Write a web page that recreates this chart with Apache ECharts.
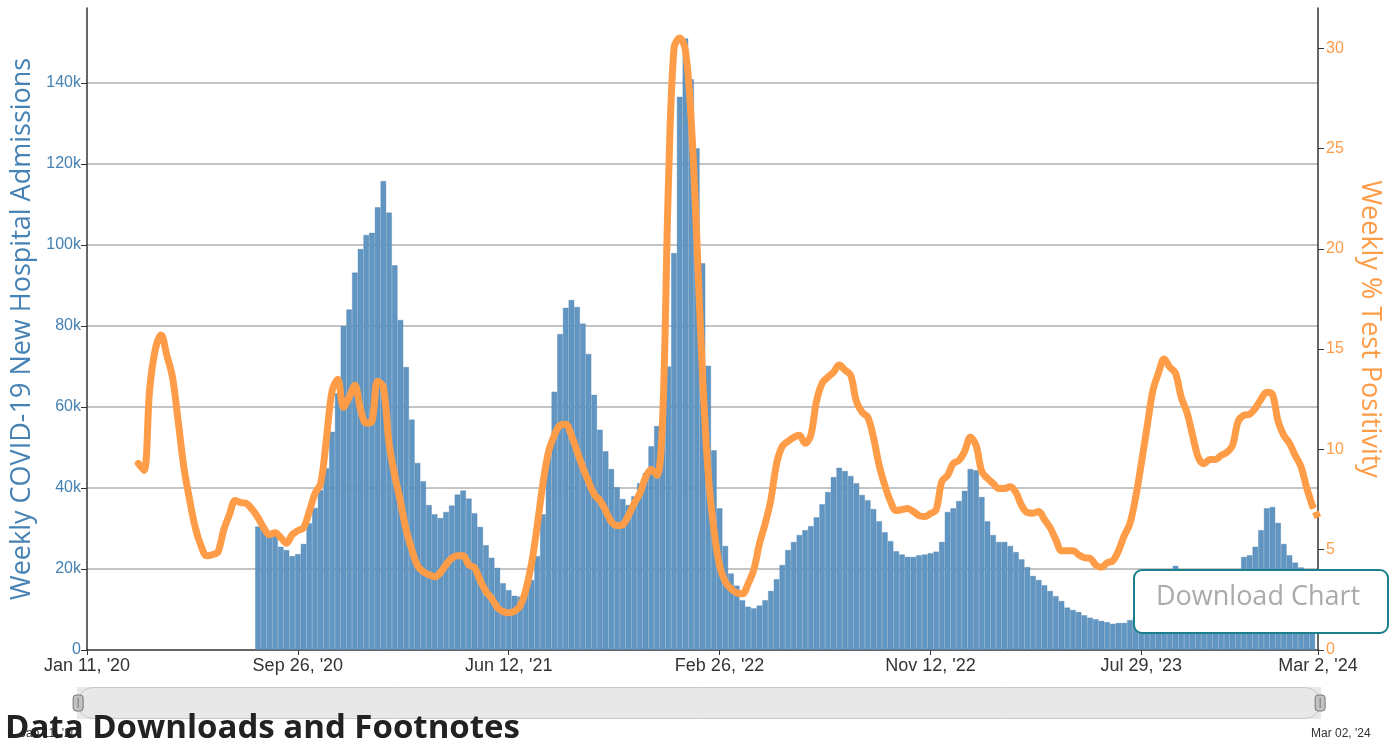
<!DOCTYPE html>
<html>
<head>
<meta charset="utf-8">
<title>Weekly COVID-19 Hospital Admissions and Test Positivity</title>
<script src="https://cdn.jsdelivr.net/npm/echarts@6/dist/echarts.min.js"></script>
<style>
  html, body { margin: 0; padding: 0; background: #ffffff; }
  #chart { width: 1400px; height: 746px; }
</style>
</head>
<body>
<div id="chart"></div>
<script>
// weekly new hospital admissions, first bar = week ending Aug 8, '20
const admissionsStart = "Aug 8, '20";
const admissions = [
  30500, 30000, 29200, 28400, 25500, 24700, 23200, 23700, 26200, 31300,
  35100, 39500, 44900, 53900, 63400, 80000, 84100, 93200, 99000, 102500,
  103000, 109300, 115800, 108000, 95000, 81500, 69900, 56900, 46200, 41700,
  35800, 33500, 32600, 34100, 35700, 38400, 39400, 37400, 33800, 30400,
  25900, 22800, 20300, 16500, 14800, 13400, 13200, 14400, 17300, 23200,
  33500, 48100, 63800, 78000, 84500, 86400, 84700, 80600, 73100, 63000,
  54400, 49100, 44700, 40200, 37300, 35800, 38000, 41200, 43700, 50300,
  55300, 55100, 70000, 98000, 136600, 151000, 140900, 123900, 95500, 70200,
  49300, 35000, 25700, 18900, 15900, 12300, 10700, 10300, 11000, 12300,
  14600, 17500, 21000, 24700, 26700, 28400, 29600, 30600, 32800, 36000,
  39000, 42700, 45000, 44200, 43000, 41200, 38300, 37000, 34800, 31800,
  29100, 26900, 24400, 23600, 23000, 23000, 23400, 23600, 23900, 24300,
  26700, 34100, 35000, 36800, 39300, 44700, 44400, 37800, 31800, 28400,
  26700, 26700, 25700, 24200, 22400, 20500, 18300, 17300, 16000, 14600,
  13300, 12100, 10500, 9900, 9400, 8600, 8000, 7600, 7200, 6900,
  6500, 6700, 6700, 7400, 8200, 9200, 10500, 12500, 15000, 17500,
  19300, 20800, 19900, 19500, 19000, 18600, 18200, 17900, 17900, 18300,
  18900, 19500, 19900, 23000, 23400, 25500, 29600, 35000, 35300, 31400,
  26200, 23400, 21600, 20400, 19500, 18500
];

// weekly % test positivity, first point = week ending Mar 14, '20
const positivityStart = "Mar 14, '20";
const positivity = [
  9.3, 8.95, 13.0, 15.0, 15.7, 14.7, 13.6, 11.4, 9.1, 7.5,
  6.1, 5.2, 4.7, 4.75, 4.9, 6.0, 6.75, 7.45, 7.35, 7.3,
  7.0, 6.6, 6.1, 5.75, 5.85, 5.6, 5.32, 5.75, 5.95, 6.1,
  6.9, 7.8, 8.3, 10.5, 12.9, 13.5, 12.1, 12.6, 13.2, 12.0,
  11.3, 11.4, 13.4, 13.1, 10.3, 8.7, 7.4, 6.0, 5.0, 4.2,
  3.9, 3.75, 3.65, 3.85, 4.25, 4.57, 4.7, 4.7, 4.25, 4.1,
  3.47, 2.91, 2.58, 2.12, 1.92, 1.86, 1.93, 2.2, 3.0, 4.3,
  6.2, 8.3, 9.9, 10.7, 11.2, 11.25, 10.7, 9.9, 9.1, 8.4,
  7.75, 7.45, 6.95, 6.4, 6.2, 6.25, 6.7, 7.3, 7.8, 8.6,
  9.0, 8.7, 11.5, 23.0, 30.0, 30.5, 29.9, 26.5, 20.5, 13.7,
  8.8, 6.0, 4.2, 3.4, 3.05, 2.85, 2.8, 3.3, 4.0, 5.3,
  6.3, 7.5, 9.3, 10.15, 10.4, 10.6, 10.7, 10.3, 10.7, 12.4,
  13.3, 13.6, 13.85, 14.2, 13.95, 13.7, 12.4, 11.85, 11.6, 10.6,
  9.2, 8.2, 7.4, 6.95, 7.0, 7.05, 6.9, 6.7, 6.65, 6.8,
  7.0, 8.4, 8.7, 9.3, 9.45, 9.9, 10.6, 10.2, 8.9, 8.55,
  8.3, 8.05, 8.05, 8.14, 7.85, 7.2, 6.85, 6.82, 6.9, 6.5,
  6.1, 5.5, 4.95, 4.95, 4.95, 4.75, 4.6, 4.57, 4.24, 4.12,
  4.35, 4.45, 4.95, 5.7, 6.3, 7.6, 9.3, 11.1, 12.9, 13.8,
  14.5, 14.1, 13.8, 12.6, 11.85, 10.7, 9.6, 9.28, 9.5, 9.5,
  9.7, 9.85, 10.2, 11.4, 11.7, 11.75, 12.05, 12.5, 12.85, 12.75,
  11.4, 10.7, 10.3, 9.7, 9.15, 8.1, 7.2
];
// last (provisional) week, drawn dashed
const positivityProvisional = [6.6];

const tickLabels = ["Jan 11, '20", "Sep 26, '20", "Jun 12, '21", "Feb 26, '22",
                    "Nov 12, '22", "Jul 29, '23", "Mar 2, '24"];

// one category per week ending Jan 11, '20 .. Mar 2, '24
const months = ['Jan', 'Feb', 'Mar', 'Apr', 'May', 'Jun', 'Jul', 'Aug', 'Sep', 'Oct', 'Nov', 'Dec'];
const weeks = [];
for (let t = Date.UTC(2020, 0, 11); t <= Date.UTC(2024, 2, 2); t += 7 * 864e5) {
    const d = new Date(t);
    weeks.push(months[d.getUTCMonth()] + ' ' + d.getUTCDate() + ", '" + String(d.getUTCFullYear()).slice(2));
}

function placeOnWeeks(values, start) {
    const k0 = weeks.indexOf(start);
    return weeks.map(function (w, i) {
        const k = i - k0;
        return k >= 0 && k < values.length ? values[k] : '-';
    });
}

const barData = placeOnWeeks(admissions, admissionsStart);
const lineData = placeOnWeeks(positivity, positivityStart);
const dashData = placeOnWeeks(
    [positivity[positivity.length - 1]].concat(positivityProvisional),
    weeks[weeks.indexOf(positivityStart) + positivity.length - 1]
);

const showTick = function (index, value) {
    return tickLabels.indexOf(value) >= 0;
};

const blue = '#4682b4';
const orange = '#ff9c47';

const chart = echarts.init(document.getElementById('chart'));

const option = {
    backgroundColor: '#ffffff',
    animation: false,
    textStyle: { fontFamily: 'Liberation Sans, Arial, sans-serif' },
    grid: { left: 87, right: 82, top: 8, bottom: 96 },
    xAxis: {
        type: 'category',
        data: weeks,
        boundaryGap: false,
        axisLine: { lineStyle: { color: '#333', width: 1.5 } },
        axisTick: { interval: showTick, length: 5, lineStyle: { color: '#333' } },
        axisLabel: { interval: showTick, color: '#333', fontSize: 18, margin: 7 },
        splitLine: { show: false }
    },
    yAxis: [{
        type: 'value',
        min: 0,
        max: 158500,
        interval: 20000,
        name: 'Weekly COVID-19 New Hospital Admissions',
        nameLocation: 'middle',
        nameGap: 51,
        nameRotate: 90,
        nameTextStyle: { color: blue, fontSize: 27, fontFamily: 'Open Sans' },
        axisLine: { show: true, lineStyle: { color: '#333', width: 1.5 } },
        axisTick: { show: true, length: 6, lineStyle: { color: '#333' } },
        axisLabel: {
            color: blue, fontSize: 16, margin: 6, showMaxLabel: false,
            formatter: function (v) { return v === 0 ? '0' : (v / 1000) + 'k'; }
        },
        splitLine: { show: true, showMinLine: false, showMaxLine: false, lineStyle: { color: '#b0b0b0', width: 1.5 } }
    }, {
        type: 'value',
        min: 0,
        max: 32,
        interval: 5,
        name: 'Weekly % Test Positivity',
        nameLocation: 'middle',
        nameGap: 38,
        nameRotate: -90,
        nameTextStyle: { color: orange, fontSize: 27, fontFamily: 'Open Sans' },
        axisLine: { show: true, lineStyle: { color: '#333', width: 1.5 } },
        axisTick: { show: true, length: 6, lineStyle: { color: '#333' } },
        axisLabel: { color: orange, fontSize: 16, margin: 8, showMaxLabel: false },
        splitLine: { show: false }
    }],
    dataZoom: [{
        type: 'slider',
        xAxisIndex: 0,
        start: 0,
        end: 100,
        left: 76,
        right: 80,
        top: 687,
        height: 32,
        showDetail: false,
        showDataShadow: false,
        brushSelect: false,
        borderRadius: 16,
        borderColor: '#c8c8c8',
        backgroundColor: '#e8e8e8',
        fillerColor: '#e8e8e8',
        handleIcon: 'path://M3,0 h4 a3,3 0 0 1 3,3 v10 a3,3 0 0 1 -3,3 h-4 a3,3 0 0 1 -3,-3 v-10 a3,3 0 0 1 3,-3 z M5,3 v10',
        handleSize: '50%',
        handleStyle: { color: '#c2c2c2', borderColor: '#777', borderWidth: 1 },
        moveHandleSize: 0,
        moveHandleStyle: { opacity: 0 }
    }],
    series: [{
        name: 'Weekly COVID-19 New Hospital Admissions',
        type: 'bar',
        data: barData,
        barCategoryGap: '0%',
        itemStyle: { color: '#6196c3', borderColor: 'rgba(72,122,170,0.55)', borderWidth: 0.6 }
    }, {
        name: 'Weekly % Test Positivity',
        type: 'line',
        yAxisIndex: 1,
        data: lineData,
        smooth: 0.35,
        showSymbol: false,
        lineStyle: { color: orange, width: 7, cap: 'round', join: 'round' },
        itemStyle: { color: orange }
    }, {
        name: 'Weekly % Test Positivity (provisional)',
        type: 'line',
        yAxisIndex: 1,
        data: dashData,
        showSymbol: false,
        lineStyle: { color: orange, width: 7, type: [3, 4, 8] },
        itemStyle: { color: orange }
    }],
    graphic: [{
        type: 'rect',
        left: 1133,
        top: 569,
        z: 100,
        shape: { width: 254, height: 63, r: 8 },
        style: { fill: '#ffffff', stroke: '#1c7f8c', lineWidth: 2 }
    }, {
        type: 'text',
        left: 1156,
        top: 584,
        z: 101,
        style: { text: 'Download Chart', fill: '#aaaaaa', font: '27px "Open Sans"' }
    }, {
        type: 'text',
        left: 20,
        top: 728,
        z: 90,
        style: { text: "Jan 11, '20", fill: '#333', font: '12px "Liberation Sans"' }
    }, {
        type: 'text',
        left: 1311,
        top: 728,
        z: 90,
        style: { text: "Mar 02, '24", fill: '#333', font: '12px "Liberation Sans"' }
    }, {
        type: 'text',
        left: 5,
        top: 712,
        z: 110,
        style: { text: 'Data Downloads and Footnotes', fill: '#222', font: 'bold 33px "Open Sans"' }
    }]
};

chart.setOption(option);
</script>
</body>
</html>
